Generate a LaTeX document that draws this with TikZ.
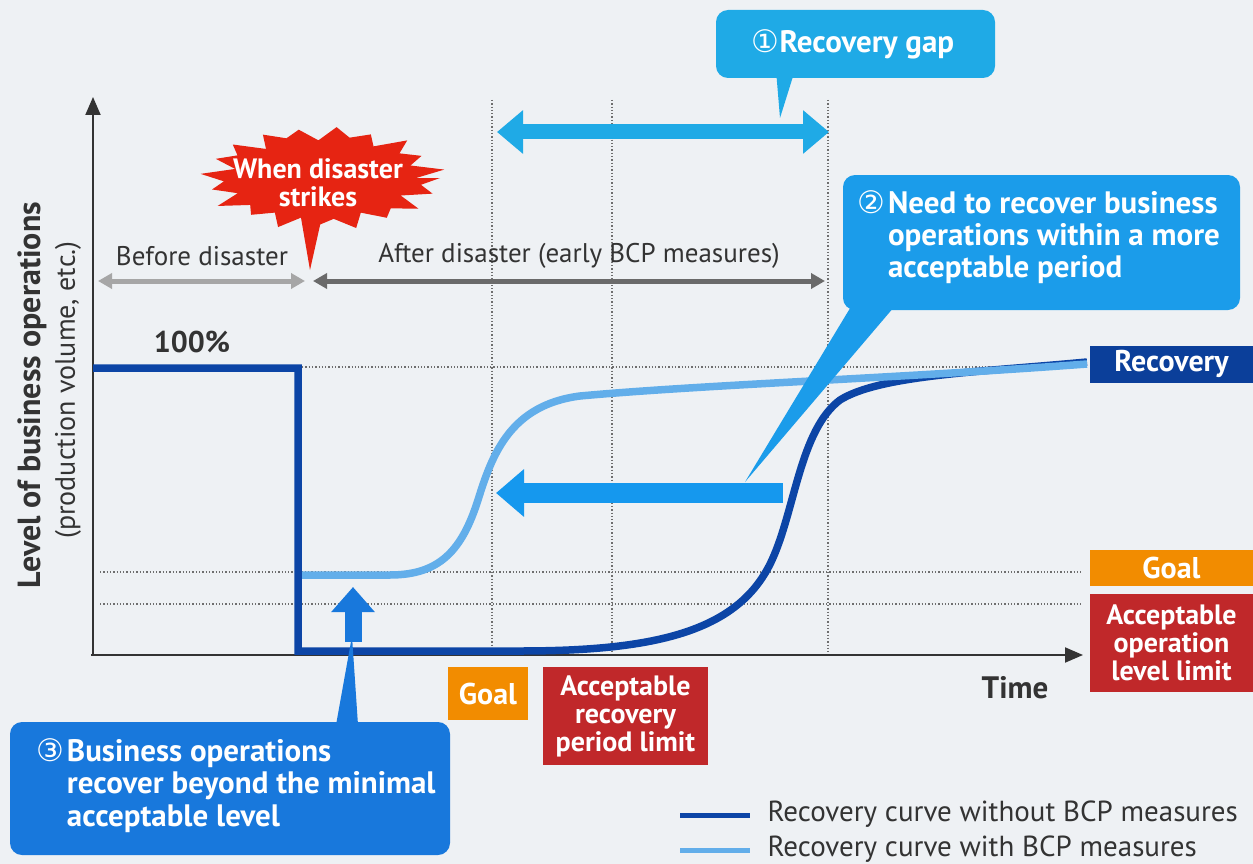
\documentclass[tikz,border=0pt]{standalone}
\usepackage{fontspec}
\setmainfont{PT Sans}
\newfontfamily\symfont{DejaVu Sans}
\usetikzlibrary{arrows.meta}
\definecolor{bg}{HTML}{EEF1F4}
\definecolor{axisc}{HTML}{333333}
\definecolor{txt}{HTML}{333333}
\definecolor{darkc}{HTML}{0C45A6}
\definecolor{lightc}{HTML}{62AEEA}
\definecolor{cyanc}{HTML}{1FAAE6}
\definecolor{blue2}{HTML}{1B9CEA}
\definecolor{blue3}{HTML}{1878DC}
\definecolor{arrowc}{HTML}{1598EE}
\definecolor{orangec}{HTML}{F28C00}
\definecolor{redc}{HTML}{C0282A}
\definecolor{burstc}{HTML}{E62412}
\definecolor{recc}{HTML}{0B3F9A}
\definecolor{greyA}{HTML}{A6A6A6}
\definecolor{greyB}{HTML}{6A6A6A}
\definecolor{dotc}{HTML}{6E6E6E}
\begin{document}
\begin{tikzpicture}[x=1pt,y=-1pt,
  axis/.style={draw=axisc,line width=2pt,-{Triangle[width=15pt,length=18pt]}},
  dotline/.style={draw=dotc,line width=1.3pt,dotted},
  darkcurve/.style={draw=darkc,line width=7.5pt,line join=miter},
  lightcurve/.style={draw=lightc,line width=7.5pt},
  box/.style={inner sep=0pt,align=center,text=white,font=\bfseries\fontsize{30}{30}\selectfont},
  boxthree/.style={box,font=\bfseries\fontsize{28}{28}\selectfont},
  lbl/.style={text=txt,font=\fontsize{27}{28}\selectfont},
  bubble/.style={rounded corners=12pt,inner sep=0pt},
  ctext/.style={text=white,font=\bfseries\fontsize{31}{32}\selectfont,inner sep=0pt},
  period/.style={line width=5pt,{Triangle[width=15pt,length=14pt]}-{Triangle[width=15pt,length=14pt]}}
]
\useasboundingbox (0,0) rectangle (1253,864);
\fill[bg] (0,0) rectangle (1253,864);

% dotted guide lines
\coordinate (v1t) at (492,100); \coordinate (v1b) at (492,655);
\coordinate (v2t) at (612,100); \coordinate (v2b) at (612,655);
\coordinate (v3t) at (828,100); \coordinate (v3b) at (828,655);
\draw[dotline] (v1t) -- (v1b);
\draw[dotline] (v2t) -- (v2b);
\draw[dotline] (v3t) -- (v3b);
\coordinate (h1l) at (302,367); \coordinate (h1r) at (1082,367);
\coordinate (h2l) at (100,572); \coordinate (h2r) at (1082,572);
\coordinate (h3l) at (100,604); \coordinate (h3r) at (1082,604);
\draw[dotline] (h1l) -- (h1r);
\draw[dotline] (h2l) -- (h2r);
\draw[dotline] (h3l) -- (h3r);

% axes
\coordinate (origin) at (93,655);
\coordinate (ytop) at (93,97);
\coordinate (xend) at (1083,655);
\draw[axis] (origin) -- (ytop);
\draw[axis] (91,655) -- (xend);

% axis labels
\node[rotate=90,text=txt,font=\bfseries\fontsize{32}{34}\selectfont] (ylab) at (32,395) {Level of business operations};
\node[rotate=90,text=txt,font=\fontsize{28}{30}\selectfont] (ylab2) at (68,390) {(production volume, etc.)};
\node[text=txt,font=\bfseries\fontsize{31}{32}\selectfont] (time) at (1015,688) {Time};
\node[text=txt,font=\bfseries\fontsize{30}{32}\selectfont] (pct) at (192,342) {100\%};

% curves
\coordinate (c0) at (93,368);
\draw[darkcurve] (c0) -- (298,368) -- (298,651) -- (520,651)
  .. controls (660,651) and (740,630) .. (772,560)
  .. controls (795,510) and (800,430) .. (840,400)
  .. controls (880,375) and (980,372) .. (1087,362);
\coordinate (l0) at (302,575);
\draw[lightcurve] (l0) -- (390,575)
  .. controls (440,575) and (462,550) .. (478,500)
  .. controls (492,455) and (510,405) .. (580,396)
  .. controls (700,385) and (900,378) .. (1087,364);

% right labels
\node[box,fill=recc,minimum width=163pt,minimum height=37pt] (recovery) at (1171.5,364) {Recovery};
\node[box,fill=orangec,minimum width=163pt,minimum height=36pt] (goalR) at (1171.5,568) {Goal};
\node[boxthree,fill=redc,minimum width=163pt,minimum height=98pt] (accR) at (1171.5,643) {Acceptable\\operation\\level limit};
% bottom labels
\node[box,fill=orangec,minimum width=80pt,minimum height=53pt] (goalB) at (488,693.5) {Goal};
\node[boxthree,fill=redc,minimum width=165pt,minimum height=98pt] (accB) at (625.5,716) {Acceptable\\recovery\\period limit};

% before / after
\coordinate (b1) at (98,281); \coordinate (b2) at (305,281);
\coordinate (a1) at (313,281); \coordinate (a2) at (825,281);
\draw[period,draw=greyA] (b1) -- (b2);
\draw[period,draw=greyB] (a1) -- (a2);
\node[lbl] (before) at (202,256) {Before disaster};
\node[lbl] (after) at (579,256) {After disaster (early BCP measures)};

% burst
\fill[burstc] (300,212) -- (310,270) -- (323,212) -- cycle;
\fill[burstc] ({322+118*(1)},178)
  \foreach \k in {1,...,39}{
    -- ({322+118*(0.80+0.20*mod(\k+1,2)+0.05*sin(\k*97))*cos(\k*9.2308)},
        {178+50*(0.80+0.20*mod(\k+1,2)+0.05*sin(\k*97))*sin(\k*9.2308)})
  } -- cycle;
\node[text=white,align=center,font=\bfseries\fontsize{28}{28}\selectfont] (burst) at (318,183) {When disaster\\strikes};

% recovery gap arrow
\coordinate (g1) at (497,132); \coordinate (g2) at (829,132);
\draw[cyanc,line width=15pt,{Triangle[width=42pt,length=26pt]}-{Triangle[width=42pt,length=26pt]}] (g1) -- (g2);

% callout 1
\node[bubble,fill=cyanc,minimum width=279pt,minimum height=68pt] (call1) at (855.5,44) {};
\fill[cyanc] (776,70) -- (780,118) -- (795,70) -- cycle;
\node[ctext,font=\bfseries\fontsize{31}{32}\selectfont] (call1t) at (853,44) {{\symfont\mdseries ①}Recovery gap};

% left arrow
\coordinate (la1) at (783,493); \coordinate (la2) at (496,493);
\draw[arrowc,line width=20pt,-{Triangle[width=46pt,length=28pt]}] (la1) -- (la2);

% callout 2
\node[bubble,fill=blue2,minimum width=397pt,minimum height=135pt] (call2) at (1041.5,242.5) {};
\fill[blue2] (855,300) -- (745,482) -- (900,300) -- cycle;
\node[ctext,anchor=north west] (call2t) at (857,190) {\begin{tabular}{@{}l@{\hspace{3pt}}l@{}}{\symfont\mdseries ②} & Need to recover business\\ & operations within a more\\ & acceptable period\end{tabular}};

% up arrow + callout 3
\coordinate (ua1) at (353,642); \coordinate (ua2) at (353,587);
\fill[blue3] (336,725) -- (352,636) -- (358,725) -- cycle;
\draw[blue3,line width=17pt,-{Triangle[width=42pt,length=25pt]}] (ua1) -- (ua2);
\node[bubble,fill=blue3,minimum width=440pt,minimum height=133pt] (call3) at (230,788.5) {};
\node[ctext,anchor=north west,font=\bfseries\fontsize{31}{32.5}\selectfont] (call3t) at (36,738) {\begin{tabular}{@{}l@{\hspace{3pt}}l@{}}{\symfont\mdseries ③} & Business operations\\ & recover beyond the minimal\\ & acceptable level\end{tabular}};

% legend
\coordinate (k1a) at (680,815); \coordinate (k1b) at (750,815);
\coordinate (k2a) at (680,850); \coordinate (k2b) at (750,850);
\draw[darkc,line width=5pt] (k1a) -- (k1b);
\draw[lightc,line width=5pt] (k2a) -- (k2b);
\node[lbl,anchor=west,font=\fontsize{29}{30}\selectfont] (leg1) at (764,814) {Recovery curve without BCP measures};
\node[lbl,anchor=west,font=\fontsize{29}{30}\selectfont] (leg2) at (764,849) {Recovery curve with BCP measures};
\end{tikzpicture}
\end{document}
